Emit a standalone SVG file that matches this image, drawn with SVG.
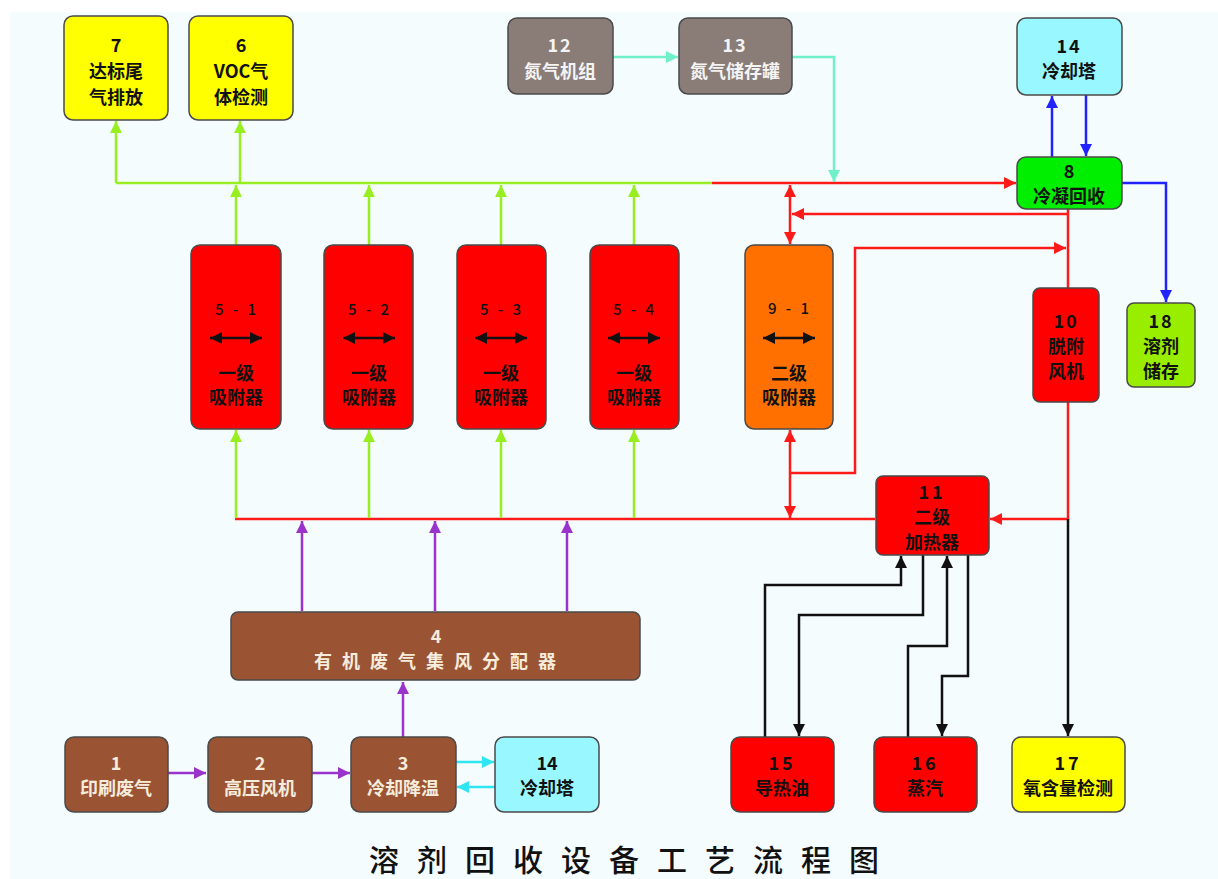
<svg xmlns="http://www.w3.org/2000/svg" width="1218" height="879" viewBox="0 0 1218 879">
<defs>
<style>
.n rect{stroke:#4a4a4a;stroke-width:1.5}
text{font-family:"Noto Sans CJK SC","Noto Sans",sans-serif;font-weight:bold;text-anchor:middle;dominant-baseline:central;font-size:18px;fill:#111}
.lt{fill:#f6ecdc}
.wt{fill:#f4f4f4}
.sm{font-size:15px;font-weight:500;letter-spacing:3px}
.c path{fill:none;stroke-width:2.5}
.g{stroke:#99ee22}
.r{stroke:#ff1a1a}
.p{stroke:#9933cc}
.cy{stroke:#2ee6f2}
.aq{stroke:#6ff0c8}
.b{stroke:#2222ff}
.k{stroke:#111}
</style>
<marker id="mg" viewBox="0 0 12 12" refX="12" refY="6" markerWidth="12" markerHeight="12" markerUnits="userSpaceOnUse" orient="auto-start-reverse"><path d="M0,0L12,6L0,12z" fill="#99ee22"/></marker>
<marker id="mr" viewBox="0 0 12 12" refX="12" refY="6" markerWidth="12" markerHeight="12" markerUnits="userSpaceOnUse" orient="auto-start-reverse"><path d="M0,0L12,6L0,12z" fill="#ff1a1a"/></marker>
<marker id="mp" viewBox="0 0 12 12" refX="12" refY="6" markerWidth="12" markerHeight="12" markerUnits="userSpaceOnUse" orient="auto-start-reverse"><path d="M0,0L12,6L0,12z" fill="#9933cc"/></marker>
<marker id="mc" viewBox="0 0 12 12" refX="12" refY="6" markerWidth="12" markerHeight="12" markerUnits="userSpaceOnUse" orient="auto-start-reverse"><path d="M0,0L12,6L0,12z" fill="#2ee6f2"/></marker>
<marker id="ma" viewBox="0 0 12 12" refX="12" refY="6" markerWidth="12" markerHeight="12" markerUnits="userSpaceOnUse" orient="auto-start-reverse"><path d="M0,0L12,6L0,12z" fill="#6ff0c8"/></marker>
<marker id="mb" viewBox="0 0 12 12" refX="12" refY="6" markerWidth="12" markerHeight="12" markerUnits="userSpaceOnUse" orient="auto-start-reverse"><path d="M0,0L12,6L0,12z" fill="#2222ff"/></marker>
<marker id="mk" viewBox="0 0 12 12" refX="12" refY="6" markerWidth="12" markerHeight="12" markerUnits="userSpaceOnUse" orient="auto-start-reverse"><path d="M0,0L12,6L0,12z" fill="#111"/></marker>
</defs>
<rect x="0" y="0" width="1218" height="879" fill="#ffffff"/>
<rect x="10" y="12" width="1208" height="867" fill="#f4fcfe"/>

<g id="connectors" class="c">
<path class="g" d="M116,183H712"/>
<path class="r" d="M712,183H1016" marker-end="url(#mr)"/>
<path class="g" d="M116,183V121" marker-end="url(#mg)"/>
<path class="g" d="M240,183V121" marker-end="url(#mg)"/>
<path class="g" d="M236,245V185" marker-end="url(#mg)"/>
<path class="g" d="M369,245V185" marker-end="url(#mg)"/>
<path class="g" d="M501,245V185" marker-end="url(#mg)"/>
<path class="g" d="M634,245V185" marker-end="url(#mg)"/>
<path class="r" d="M235,519H875"/>
<path class="g" d="M236,518V430" marker-end="url(#mg)"/>
<path class="g" d="M369,518V430" marker-end="url(#mg)"/>
<path class="g" d="M501,518V430" marker-end="url(#mg)"/>
<path class="g" d="M634,518V430" marker-end="url(#mg)"/>
<path class="p" d="M302,611V521" marker-end="url(#mp)"/>
<path class="p" d="M435,611V521" marker-end="url(#mp)"/>
<path class="p" d="M567,611V521" marker-end="url(#mp)"/>
<path class="p" d="M403,737V682" marker-end="url(#mp)"/>
<path class="p" d="M168,773H206" marker-end="url(#mp)"/>
<path class="p" d="M312,773H350" marker-end="url(#mp)"/>
<path class="cy" d="M456,762H494" marker-end="url(#mc)"/>
<path class="cy" d="M495,787H457" marker-end="url(#mc)"/>
<path class="aq" d="M613,57H678" marker-end="url(#ma)"/>
<path class="aq" d="M792,57H834V182" marker-end="url(#ma)"/>
<path class="b" d="M1052,157V96" marker-end="url(#mb)"/>
<path class="b" d="M1086,95V156" marker-end="url(#mb)"/>
<path class="b" d="M1122,183H1166V302" marker-end="url(#mb)"/>
<path class="r" d="M790,185V244" marker-start="url(#mr)" marker-end="url(#mr)"/>
<path class="r" d="M1068,209V288"/>
<path class="r" d="M1068,214H792" marker-end="url(#mr)"/>
<path class="r" d="M790,473H855V248H1066" marker-end="url(#mr)"/>
<path class="r" d="M790,430V518" marker-start="url(#mr)" marker-end="url(#mr)"/>
<path class="r" d="M1068,402V519H990" marker-end="url(#mr)"/>
<path class="k" d="M1068,519V736" marker-end="url(#mk)"/>
<path class="k" d="M765,737V585H901V556" marker-end="url(#mk)"/>
<path class="k" d="M923,555V615H799V736" marker-end="url(#mk)"/>
<path class="k" d="M908,737V646H947V556" marker-end="url(#mk)"/>
<path class="k" d="M968,555V676H942V736" marker-end="url(#mk)"/>
</g>

<g id="n7" class="n"><rect x="64" y="16" width="104" height="104" rx="9" fill="#ffff00"/><text x="116" y="44">7</text><text x="116" y="70">达标尾</text><text x="116" y="96">气排放</text></g>
<g id="n6" class="n"><rect x="189" y="16" width="104" height="104" rx="9" fill="#ffff00"/><text x="241" y="44">6</text><text x="241" y="70">VOC气</text><text x="241" y="96">体检测</text></g>
<g id="n12" class="n"><rect x="508" y="18" width="105" height="76" rx="9" fill="#8a7d78"/><text class="wt" x="560" y="44" style="letter-spacing:2px">12</text><text class="wt" x="560" y="70">氮气机组</text></g>
<g id="n13" class="n"><rect x="679" y="18" width="113" height="76" rx="9" fill="#8a7d78"/><text class="wt" x="735" y="44" style="letter-spacing:2px">13</text><text class="wt" x="735" y="70">氮气储存罐</text></g>
<g id="n14a" class="n"><rect x="1017" y="18" width="105" height="77" rx="9" fill="#99f8ff"/><text x="1069" y="45" style="letter-spacing:2px">14</text><text x="1069" y="70">冷却塔</text></g>
<g id="n8" class="n"><rect x="1017" y="157" width="105" height="52" rx="9" fill="#00ee00"/><text x="1069" y="170">8</text><text x="1069" y="195">冷凝回收</text></g>

<g id="n5-1" class="n"><rect x="191" y="245" width="90" height="184" rx="9" fill="#ff0000"/><text class="sm" x="237" y="308">5 - 1</text><path d="M210,338H262" stroke="#111" stroke-width="2.5" marker-start="url(#mk)" marker-end="url(#mk)"/><text x="236" y="372">一级</text><text x="236" y="396">吸附器</text></g>
<g id="n5-2" class="n"><rect x="324" y="245" width="89" height="184" rx="9" fill="#ff0000"/><text class="sm" x="370" y="308">5 - 2</text><path d="M343,338H395" stroke="#111" stroke-width="2.5" marker-start="url(#mk)" marker-end="url(#mk)"/><text x="369" y="372">一级</text><text x="369" y="396">吸附器</text></g>
<g id="n5-3" class="n"><rect x="457" y="245" width="89" height="184" rx="9" fill="#ff0000"/><text class="sm" x="502" y="308">5 - 3</text><path d="M475,338H527" stroke="#111" stroke-width="2.5" marker-start="url(#mk)" marker-end="url(#mk)"/><text x="501" y="372">一级</text><text x="501" y="396">吸附器</text></g>
<g id="n5-4" class="n"><rect x="590" y="245" width="89" height="184" rx="9" fill="#ff0000"/><text class="sm" x="635" y="308">5 - 4</text><path d="M608,338H660" stroke="#111" stroke-width="2.5" marker-start="url(#mk)" marker-end="url(#mk)"/><text x="634" y="372">一级</text><text x="634" y="396">吸附器</text></g>
<g id="n9-1" class="n"><rect x="745" y="245" width="88" height="184" rx="9" fill="#ff7000"/><text class="sm" x="790" y="307">9 - 1</text><path d="M763,338H815" stroke="#111" stroke-width="2.5" marker-start="url(#mk)" marker-end="url(#mk)"/><text x="789" y="372">二级</text><text x="789" y="396">吸附器</text></g>

<g id="n10" class="n"><rect x="1033" y="288" width="66" height="114" rx="7" fill="#ff0000"/><text x="1066" y="320" style="letter-spacing:2px">10</text><text x="1066" y="345">脱附</text><text x="1066" y="370">风机</text></g>
<g id="n18" class="n"><rect x="1127" y="303" width="68" height="84" rx="7" fill="#99ee00"/><text x="1161" y="320" style="letter-spacing:2px">18</text><text x="1161" y="345">溶剂</text><text x="1161" y="370">储存</text></g>
<g id="n11" class="n"><rect x="876" y="476" width="113" height="79" rx="7" fill="#ff0000"/><text x="932" y="491" style="letter-spacing:3px">11</text><text x="932" y="516">二级</text><text x="932" y="541">加热器</text></g>

<g id="n4" class="n"><rect x="231" y="612" width="409" height="68" rx="7" fill="#9a5434"/><text class="lt" x="436" y="635">4</text><text class="lt" x="440" y="660" style="letter-spacing:10px">有机废气集风分配器</text></g>
<g id="n1" class="n"><rect x="65" y="737" width="103" height="75" rx="9" fill="#9a5434"/><text class="lt" x="116" y="762">1</text><text class="lt" x="116" y="787">印刷废气</text></g>
<g id="n2" class="n"><rect x="208" y="737" width="104" height="75" rx="9" fill="#9a5434"/><text class="lt" x="260" y="762">2</text><text class="lt" x="260" y="787">高压风机</text></g>
<g id="n3" class="n"><rect x="351" y="737" width="105" height="75" rx="9" fill="#9a5434"/><text class="lt" x="403" y="762">3</text><text class="lt" x="403" y="787">冷却降温</text></g>
<g id="n14b" class="n"><rect x="495" y="737" width="104" height="75" rx="9" fill="#99f8ff"/><text x="547" y="762">14</text><text x="547" y="787">冷却塔</text></g>
<g id="n15" class="n"><rect x="731" y="737" width="103" height="75" rx="9" fill="#ff0000"/><text x="782" y="762" style="letter-spacing:3px">15</text><text x="782" y="787">导热油</text></g>
<g id="n16" class="n"><rect x="874" y="737" width="103" height="75" rx="9" fill="#ff0000"/><text x="925" y="762" style="letter-spacing:3px">16</text><text x="925" y="787">蒸汽</text></g>
<g id="n17" class="n"><rect x="1012" y="737" width="113" height="75" rx="9" fill="#ffff00"/><text x="1068" y="762" style="letter-spacing:3px">17</text><text x="1068" y="787">氧含量检测</text></g>

<text x="369" y="858" style="font-size:30px;letter-spacing:18px;text-anchor:start;font-weight:500">溶剂回收设备工艺流程图</text>
</svg>
